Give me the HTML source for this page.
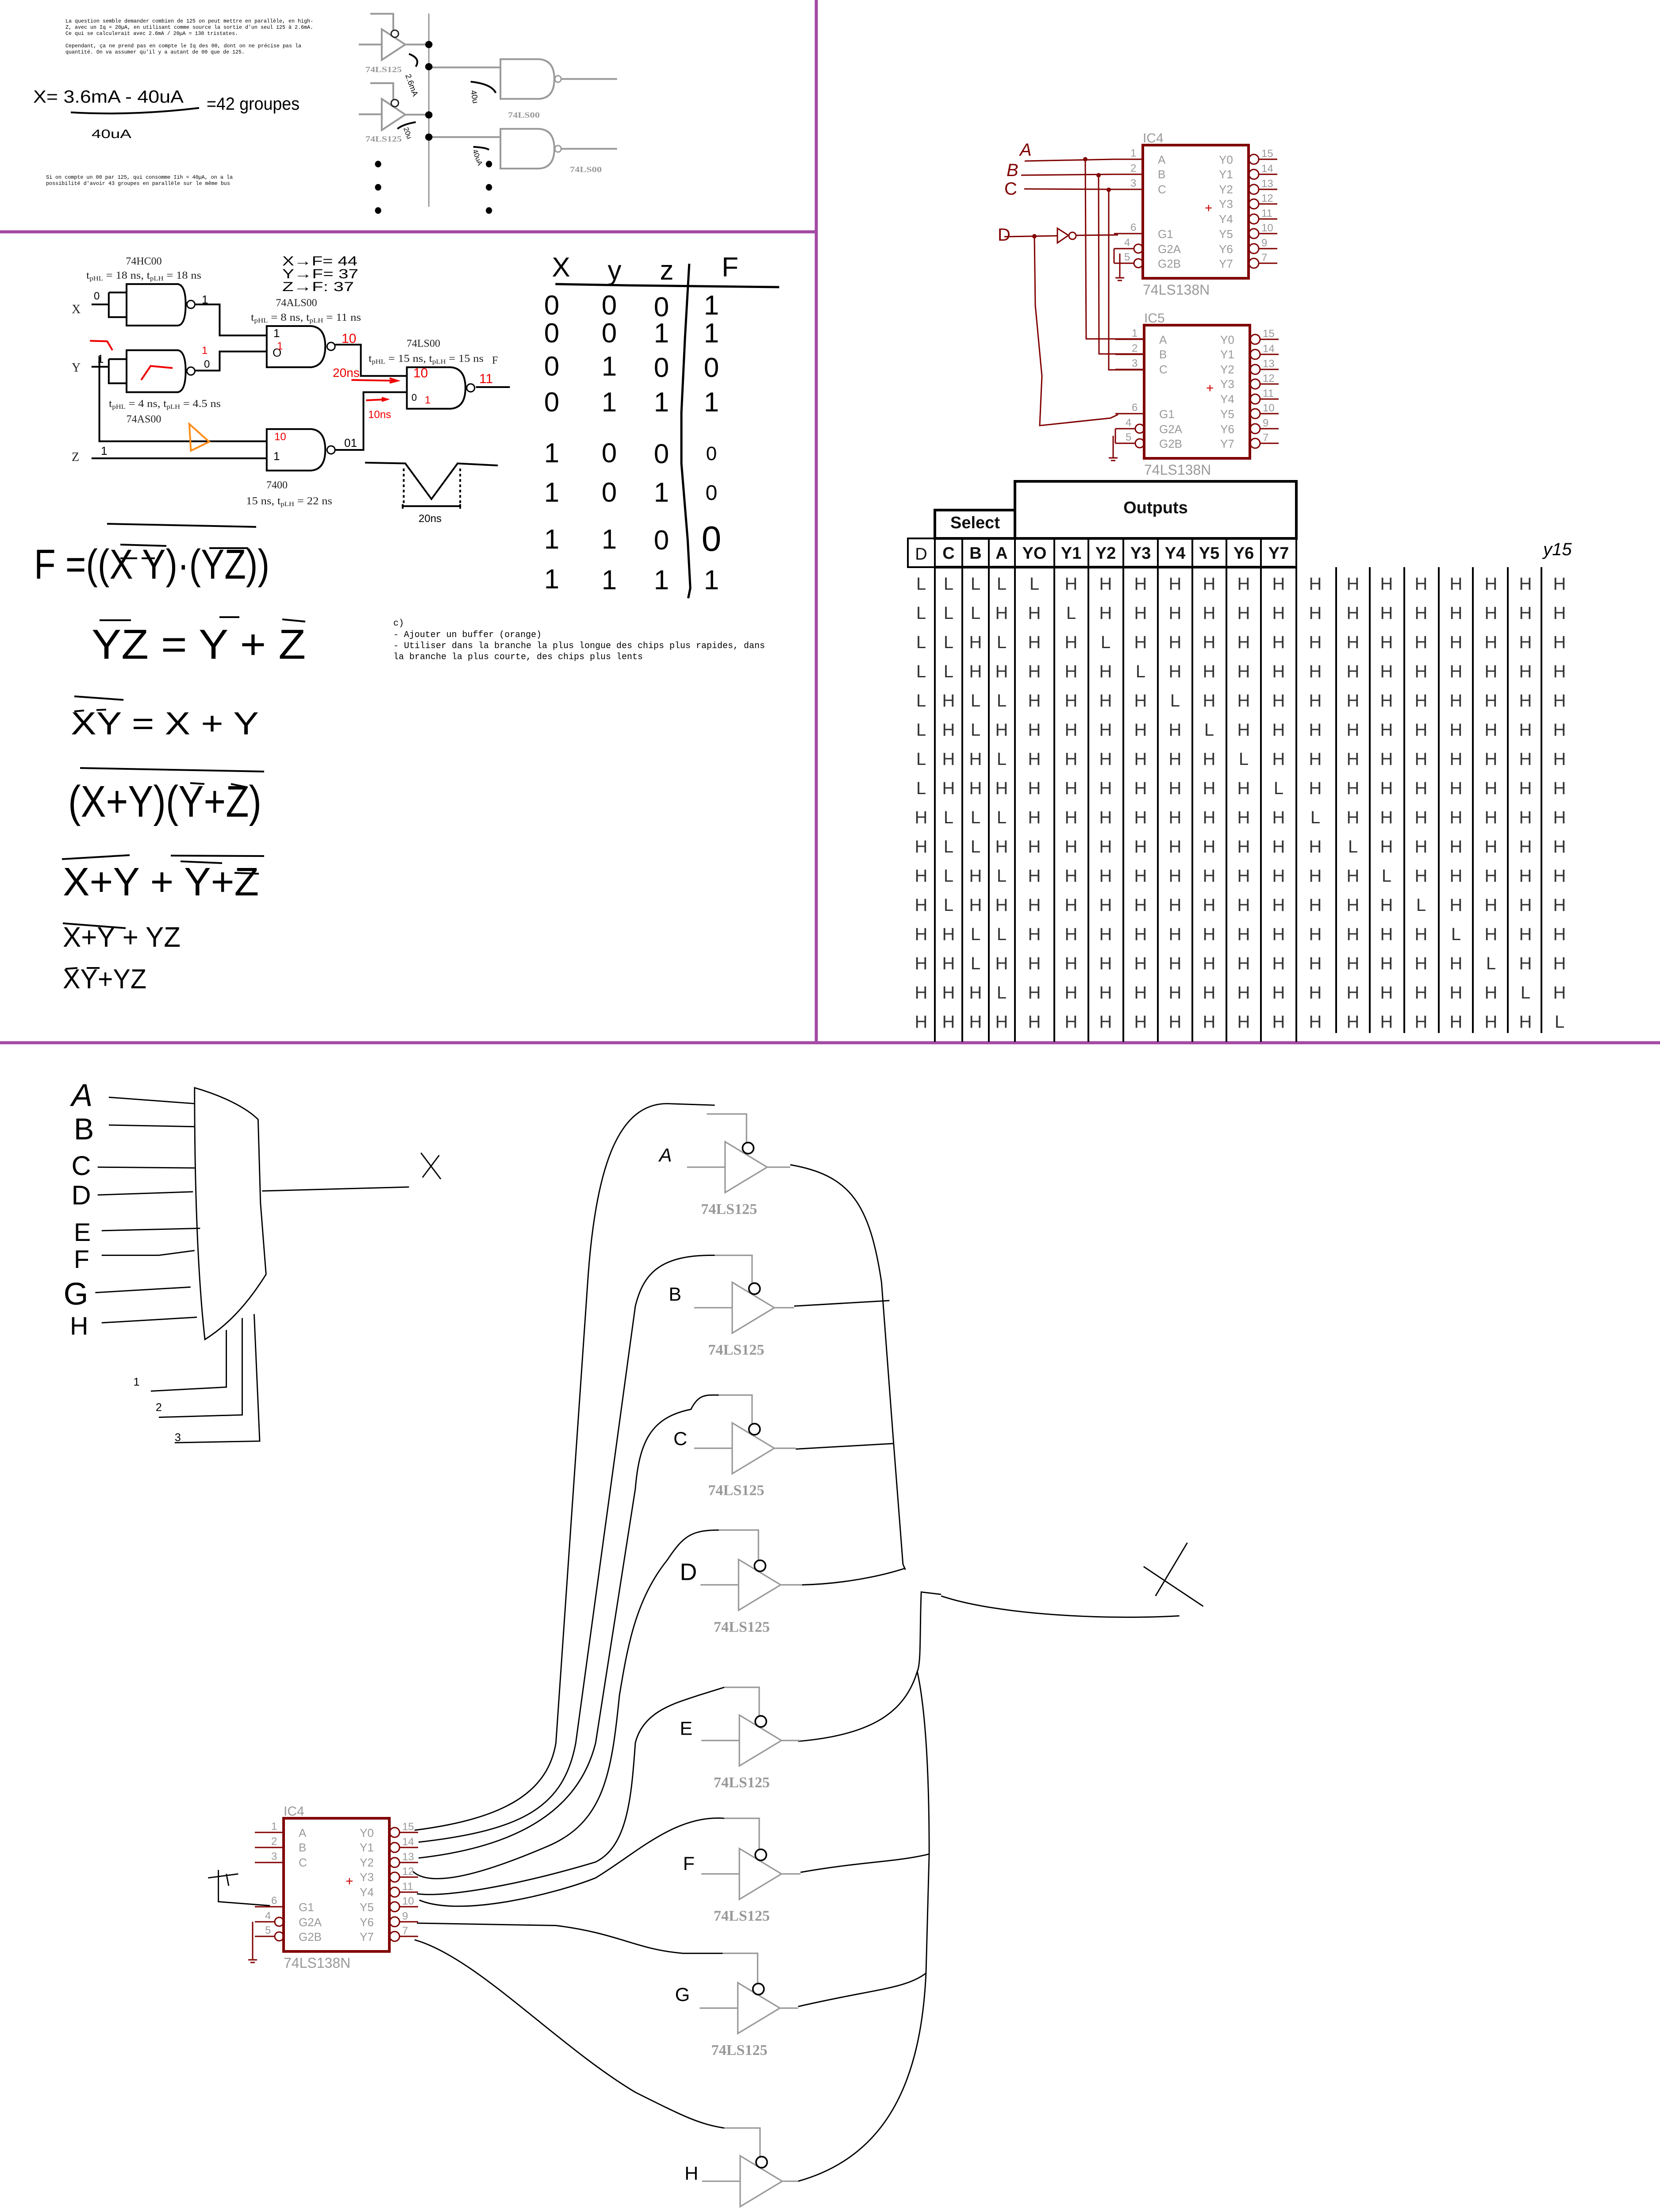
<!DOCTYPE html>
<html><head><meta charset="utf-8"><style>
html,body{margin:0;padding:0;background:#fff;width:3752px;height:5168px;overflow:hidden;}
svg{display:block;}
.g{fill:none;stroke:#999;stroke-width:4;vector-effect:non-scaling-stroke}
.k{fill:none;stroke:#000;stroke-width:4;vector-effect:non-scaling-stroke}
.r{fill:none;stroke:#e00;stroke-width:4;vector-effect:non-scaling-stroke}
.w{fill:none;stroke:#800000;stroke-width:3}
.cb{fill:none;stroke:#800000;stroke-width:6}
.ct{font-family:"Liberation Sans",sans-serif;fill:#999}
.tt{font-family:"Liberation Sans",sans-serif;fill:#333;font-size:40px;text-anchor:middle}
.th{font-family:"Liberation Sans",sans-serif;fill:#111;font-size:38px;font-weight:bold;text-anchor:middle}
.ser{font-family:"Liberation Serif",serif;fill:#222}
.hw{font-family:"Liberation Sans",sans-serif;fill:#000}
.red{font-family:"Liberation Sans",sans-serif;fill:#e00}
.mono{font-family:"Liberation Mono",monospace;fill:#000}
</style></head><body>
<svg xmlns="http://www.w3.org/2000/svg" width="3752" height="5168" viewBox="0 0 3752 5168">
<rect width="3752" height="5168" fill="#fff"/>

<line x1="0" y1="524" x2="1848" y2="524" stroke="#a349a4" stroke-width="7"/>
<line x1="1845" y1="0" x2="1845" y2="2358" stroke="#a349a4" stroke-width="7"/>
<line x1="0" y1="2357" x2="3752" y2="2357" stroke="#a349a4" stroke-width="7"/>

<g font-size="12" class="mono">
<text x="148" y="51" textLength="560" lengthAdjust="spacingAndGlyphs">La question semble demander combien de 125 on peut mettre en parallèle, en high-</text>
<text x="148" y="65" textLength="560" lengthAdjust="spacingAndGlyphs">Z, avec un Iq = 20µA, en utilisant comme source la sortie d'un seul 125 à 2.6mA.</text>
<text x="148" y="79" textLength="390" lengthAdjust="spacingAndGlyphs">Ce qui se calculerait avec 2.6mA / 20µA = 130 tristates.</text>
<text x="148" y="107" textLength="533" lengthAdjust="spacingAndGlyphs">Cependant, ça ne prend pas en compte le Iq des 00, dont on ne précise pas la</text>
<text x="148" y="121" textLength="405" lengthAdjust="spacingAndGlyphs">quantité. On va assumer qu'il y a autant de 00 que de 125.</text>
<text x="104" y="404" textLength="422" lengthAdjust="spacingAndGlyphs">Si on compte un 00 par 125, qui consomme Iih = 40µA, on a la</text>
<text x="104" y="418" textLength="416" lengthAdjust="spacingAndGlyphs">possibilité d'avoir 43 groupes en parallèle sur le même bus</text>
</g>
<text class="hw" x="75" y="232" font-size="40" textLength="340" lengthAdjust="spacingAndGlyphs">X= 3.6mA - 40uA</text>
<path d="M160,254 Q300,262 450,244" class="k" stroke-width="5"/>
<text class="hw" x="467" y="248" font-size="40" textLength="210" lengthAdjust="spacingAndGlyphs">=42 groupes</text>
<text class="hw" x="207" y="312" font-size="28" textLength="90" lengthAdjust="spacingAndGlyphs">40uA</text>

<g transform="translate(0,0) scale(1.182,0.3387)">
 <line x1="820" y1="90" x2="820" y2="1380" class="g" style="stroke-width:3"/>
 <path d="M708,92 L752,92 L752,198" class="g"/>
 <path d="M730,195 L775,297 L730,400 Z" class="g"/>
 <ellipse cx="755" cy="225" rx="7" ry="24" fill="#fff" stroke="#222" stroke-width="3" vector-effect="non-scaling-stroke"/>
 <line x1="686" y1="297" x2="730" y2="297" class="g"/>
 <line x1="775" y1="297" x2="820" y2="297" class="g"/>
 <path d="M708,555 L752,555 L752,662" class="g"/>
 <path d="M730,660 L775,765 L730,868 Z" class="g"/>
 <ellipse cx="755" cy="688" rx="7" ry="24" fill="#fff" stroke="#222" stroke-width="3" vector-effect="non-scaling-stroke"/>
 <line x1="686" y1="763" x2="730" y2="763" class="g"/>
 <line x1="775" y1="765" x2="820" y2="765" class="g"/>
 <line x1="820" y1="450" x2="957" y2="450" class="g"/>
 <path d="M957,395 L1030,395 Q1060,400 1060,527 Q1060,655 1030,660 L957,660 Z" class="g"/>
 <ellipse cx="1067" cy="527" rx="6" ry="22" fill="#fff" stroke="#999" stroke-width="3" vector-effect="non-scaling-stroke"/>
 <line x1="1074" y1="527" x2="1180" y2="527" class="g"/>
 <line x1="820" y1="915" x2="957" y2="915" class="g"/>
 <path d="M957,860 L1030,860 Q1060,865 1060,993 Q1060,1120 1030,1125 L957,1125 Z" class="g"/>
 <ellipse cx="1067" cy="993" rx="6" ry="22" fill="#fff" stroke="#999" stroke-width="3" vector-effect="non-scaling-stroke"/>
 <line x1="1074" y1="993" x2="1180" y2="993" class="g"/>
 <g fill="#000">
  <ellipse cx="820" cy="297" rx="7" ry="24"/><ellipse cx="820" cy="445" rx="7" ry="24"/>
  <ellipse cx="820" cy="767" rx="7" ry="24"/><ellipse cx="820" cy="915" rx="7" ry="24"/>
  <ellipse cx="723" cy="1095" rx="6" ry="22"/><ellipse cx="723" cy="1250" rx="6" ry="22"/><ellipse cx="723" cy="1405" rx="6" ry="22"/>
  <ellipse cx="935" cy="1095" rx="6" ry="22"/><ellipse cx="935" cy="1250" rx="6" ry="22"/><ellipse cx="935" cy="1405" rx="6" ry="22"/>
 </g>
 <path d="M782,360 Q805,390 795,445" class="k"/>
 <path d="M900,545 Q940,560 948,620" class="k"/>
 <path d="M795,815 Q770,830 760,860" class="k"/>
 <path d="M905,980 Q930,985 935,1000" class="k"/>
</g>
<g class="ser" font-weight="bold" fill="#999" font-size="18">
 <text x="826" y="163" textLength="82" lengthAdjust="spacingAndGlyphs" style="fill:#999">74LS125</text>
 <text x="826" y="320" textLength="82" lengthAdjust="spacingAndGlyphs" style="fill:#999">74LS125</text>
 <text x="1148" y="266" textLength="72" lengthAdjust="spacingAndGlyphs" style="fill:#999">74LS00</text>
 <text x="1288" y="389" textLength="72" lengthAdjust="spacingAndGlyphs" style="fill:#999">74LS00</text>
</g>
<text class="hw" x="916" y="170" font-size="18" transform="rotate(70 916 170)">2.6mA</text>
<text class="hw" x="1064" y="205" font-size="18" transform="rotate(80 1064 205)">40u</text>
<text class="hw" x="912" y="290" font-size="16" transform="rotate(70 912 290)">20u</text>
<text class="hw" x="1068" y="340" font-size="16" transform="rotate(70 1068 340)">40uA</text>

<g transform="translate(0,530) scale(1.182,0.575)">
 <path d="M175,275 L208,275 M208,228 L242,228 M208,228 L208,325 L242,325" class="k"/>
 <path d="M242,195 L340,195 Q355,200 355,275 Q355,355 340,358 L242,358 Z" class="k"/>
 <ellipse cx="365" cy="275" rx="7.6" ry="15.6" fill="#fff" stroke="#000" stroke-width="3" vector-effect="non-scaling-stroke"/>
 <path d="M373,275 L420,275 L420,397 L510,397" class="k"/>
 <path d="M175,520 L208,520 M208,490 L242,490 M208,490 L208,585 L242,585" class="k"/>
 <path d="M242,455 L340,455 Q355,460 355,537 Q355,615 340,620 L242,620 Z" class="k"/>
 <ellipse cx="365" cy="537" rx="7.6" ry="15.6" fill="#fff" stroke="#000" stroke-width="3" vector-effect="non-scaling-stroke"/>
 <path d="M373,535 L420,535 L420,460 L510,460" class="k"/>
 <path d="M190,480 L190,813 L510,813" class="k"/>
 <path d="M175,880 L510,880" class="k"/>
 <path d="M510,360 L595,360 Q622,365 622,440 Q622,515 595,522 L510,522 Z" class="k"/>
 <ellipse cx="633" cy="440" rx="7.6" ry="15.6" fill="#fff" stroke="#000" stroke-width="3" vector-effect="non-scaling-stroke"/>
 <path d="M641,433 L690,433 L690,556 L778,556" class="k"/>
 <path d="M778,522 L862,522 Q890,527 890,603 Q890,680 862,685 L778,685 Z" class="k"/>
 <ellipse cx="900" cy="603" rx="7.6" ry="15.6" fill="#fff" stroke="#000" stroke-width="3" vector-effect="non-scaling-stroke"/>
 <path d="M910,600 L975,600" class="k"/>
 <path d="M510,765 L595,765 Q622,770 622,847 Q622,923 595,928 L510,928 Z" class="k"/>
 <ellipse cx="633" cy="847" rx="7.6" ry="15.6" fill="#fff" stroke="#000" stroke-width="3" vector-effect="non-scaling-stroke"/>
 <path d="M641,847 L695,847 L695,620 L778,620" class="k"/>
 <path d="M362,745 L400,815 L365,850 Z" fill="none" stroke="#ff8c1a" stroke-width="4" vector-effect="non-scaling-stroke"/>
 <path d="M172,418 L205,420 L215,455" class="r"/>
 <path d="M270,572 L288,517 L330,525" class="r"/>
 <path d="M672,572 L760,575 M745,565 L760,575 L745,583" class="r"/>
 <path d="M700,652 L740,648 M730,642 L740,648 L730,655" class="r"/>
 <path d="M698,897 L775,900 L825,1040 L875,900 L952,908" class="k"/>
 <path d="M772,920 L772,1060 M880,920 L880,1060" class="k" stroke-dasharray="6,6"/>
 <path d="M770,1060 L770,1078 M770,1068 L880,1068 M880,1060 L880,1078" class="k"/>
 <path d="M1062,195 L1200,200 L1490,207" class="k" style="stroke-width:5"/>
 <path d="M1318,115 L1310,400 L1303,700 L1303,900 L1315,1200 L1320,1390 L1316,1430" class="k" style="stroke-width:5"/>
</g>
<g class="ser" font-size="24">
 <text x="325" y="598" text-anchor="middle">74HC00</text>
 <text x="195" y="630" textLength="260" lengthAdjust="spacingAndGlyphs">t<tspan font-size="15" dy="4">pHL</tspan><tspan dy="-4"> = 18 ns, t</tspan><tspan font-size="15" dy="4">pLH</tspan><tspan dy="-4"> = 18 ns</tspan></text>
 <text x="670" y="692" text-anchor="middle">74ALS00</text>
 <text x="567" y="725" textLength="249" lengthAdjust="spacingAndGlyphs">t<tspan font-size="15" dy="4">pHL</tspan><tspan dy="-4"> = 8 ns, t</tspan><tspan font-size="15" dy="4">pLH</tspan><tspan dy="-4"> = 11 ns</tspan></text>
 <text x="957" y="784" text-anchor="middle">74LS00</text>
 <text x="833" y="818" textLength="260" lengthAdjust="spacingAndGlyphs">t<tspan font-size="15" dy="4">pHL</tspan><tspan dy="-4"> = 15 ns, t</tspan><tspan font-size="15" dy="4">pLH</tspan><tspan dy="-4"> = 15 ns</tspan></text>
 <text x="1112" y="822">F</text>
 <text x="246" y="920" textLength="253" lengthAdjust="spacingAndGlyphs">t<tspan font-size="15" dy="4">pHL</tspan><tspan dy="-4"> = 4 ns, t</tspan><tspan font-size="15" dy="4">pLH</tspan><tspan dy="-4"> = 4.5 ns</tspan></text>
 <text x="325" y="955" text-anchor="middle">74AS00</text>
 <text x="626" y="1104" text-anchor="middle">7400</text>
 <text x="556" y="1140" textLength="195" lengthAdjust="spacingAndGlyphs">15 ns, t<tspan font-size="15" dy="4">pLH</tspan><tspan dy="-4"> = 22 ns</tspan></text>
 <text x="162" y="708" font-size="28">X</text>
 <text x="162" y="840" font-size="28">Y</text>
 <text x="162" y="1042" font-size="28">Z</text>
</g>
<g class="hw" font-size="30">
 <text x="638" y="600" textLength="170" lengthAdjust="spacingAndGlyphs">X→F= 44</text>
 <text x="638" y="629" textLength="172" lengthAdjust="spacingAndGlyphs">Y→F= 37</text>
 <text x="638" y="658" textLength="162" lengthAdjust="spacingAndGlyphs">Z→F: 37</text>
 <text x="212" y="677" font-size="24">0</text>
 <text x="456" y="686" font-size="26">1</text>
 <text x="461" y="831" font-size="24">0</text>
 <text x="220" y="820" font-size="26">1</text>
 <text x="228" y="1028" font-size="26">1</text>
 <text x="618" y="762" font-size="26">1</text>
 <text x="616" y="806" font-size="26">O</text>
 <text x="618" y="1040" font-size="26">1</text>
 <text x="778" y="1010" font-size="26">01</text>
 <text x="930" y="906" font-size="22">0</text>
 <text x="946" y="1180" font-size="24">20ns</text>
</g>
<g class="red" font-size="30">
 <text x="772" y="775">10</text>
 <text x="752" y="852" font-size="28">20ns</text>
 <text x="934" y="853">10</text>
 <text x="1083" y="866">11</text>
 <text x="832" y="945" font-size="24">10ns</text>
 <text x="456" y="800" font-size="24">1</text>
 <text x="626" y="790" font-size="24">1</text>
 <text x="960" y="912" font-size="24">1</text>
 <text x="620" y="995" font-size="24">10</text>
</g>
<g class="hw" font-size="62" text-anchor="middle">
 <text x="1268" y="625">X</text><text x="1389" y="632">y</text><text x="1507" y="632">z</text><text x="1650" y="625">F</text>
 <text x="1247" y="711">0</text><text x="1377" y="711">0</text><text x="1495" y="715">0</text><text x="1608" y="711">1</text>
 <text x="1247" y="774">0</text><text x="1377" y="774">0</text><text x="1495" y="774">1</text><text x="1608" y="774">1</text>
 <text x="1247" y="849">0</text><text x="1377" y="849">1</text><text x="1495" y="852">0</text><text x="1608" y="852">0</text>
 <text x="1247" y="930">0</text><text x="1377" y="930">1</text><text x="1495" y="930">1</text><text x="1608" y="930">1</text>
 <text x="1247" y="1045">1</text><text x="1377" y="1045">0</text><text x="1495" y="1047">0</text><text x="1608" y="1040" font-size="44">0</text>
 <text x="1247" y="1134">1</text><text x="1377" y="1134">0</text><text x="1495" y="1134">1</text><text x="1608" y="1130" font-size="48">0</text>
 <text x="1247" y="1240">1</text><text x="1377" y="1240">1</text><text x="1495" y="1242">0</text><text x="1608" y="1245" font-size="80">0</text>
 <text x="1247" y="1330">1</text><text x="1377" y="1332">1</text><text x="1495" y="1332">1</text><text x="1608" y="1332">1</text>
</g>

<g class="hw">
 <text x="77" y="1308" font-size="95" textLength="532" lengthAdjust="spacingAndGlyphs">F =((X Y)·(YZ))</text>
 <text x="207" y="1489" font-size="95" textLength="484" lengthAdjust="spacingAndGlyphs">YZ  =  Y + Z</text>
 <text x="160" y="1660" font-size="72" textLength="425" lengthAdjust="spacingAndGlyphs">XY   = X + Y</text>
 <text x="154" y="1846" font-size="100" textLength="437" lengthAdjust="spacingAndGlyphs">(X+Y)(Y+Z)</text>
 <text x="142" y="2024" font-size="90" textLength="443" lengthAdjust="spacingAndGlyphs">X+Y  + Y+Z</text>
 <text x="142" y="2140" font-size="64" textLength="266" lengthAdjust="spacingAndGlyphs">X+Y  + YZ</text>
 <text x="142" y="2234" font-size="62" textLength="189" lengthAdjust="spacingAndGlyphs">XY+YZ</text>
</g>
<g stroke="#000" stroke-width="4" fill="none">
 <path d="M242,1184 L579,1191"/><path d="M272,1231 L376,1234"/><path d="M473,1239 L561,1239"/>
 <path d="M272,1262 L310,1262"/><path d="M320,1262 L350,1262"/>
 <path d="M225,1402 L296,1402"/><path d="M496,1395 L541,1395"/><path d="M638,1400 L690,1405"/>
 <path d="M168,1574 L279,1582"/><path d="M168,1608 L190,1606"/><path d="M218,1605 L240,1604"/>
 <path d="M181,1736 L597,1744"/><path d="M430,1770 L462,1772"/><path d="M522,1772 L560,1780"/>
 <path d="M140,1942 L293,1933"/><path d="M386,1934 L597,1935"/><path d="M408,1947 L502,1951"/><path d="M530,1973 L585,1975"/>
 <path d="M142,2087 L284,2098"/>
 <path d="M148,2190 L175,2188"/><path d="M196,2188 L225,2188"/>
</g>
<g class="mono" font-size="20">
 <text x="889" y="1414">c)</text>
 <text x="889" y="1440" textLength="335" lengthAdjust="spacingAndGlyphs">- Ajouter un buffer (orange)</text>
 <text x="889" y="1465" textLength="840" lengthAdjust="spacingAndGlyphs">- Utiliser dans la branche la plus longue des chips plus rapides, dans</text>
 <text x="889" y="1490" textLength="564" lengthAdjust="spacingAndGlyphs">la branche la plus courte, des chips plus lents</text>
</g>

<g>
 <path d="M2316,364 L2518,360 M2308,396 L2518,394 M2315,427 L2518,428" class="w"/>
 <path d="M2453,360 L2455,766 L2586,766 M2483,396 L2484,800 L2586,800 M2506,429 L2506,836 L2586,836" class="w" stroke-width="2"/>
 <circle cx="2453" cy="360" r="5" fill="#800000"/><circle cx="2483" cy="396" r="5" fill="#800000"/><circle cx="2506" cy="429" r="5" fill="#800000"/>
 <path d="M2270,535 L2390,533" class="w"/>
 <path d="M2390,516 L2415,532 L2390,549 Z" class="w"/>
 <circle cx="2424" cy="533" r="8" class="w"/>
 <path d="M2432,532 L2527,531" class="w"/>
 <circle cx="2338" cy="534" r="5" fill="#800000"/>
 <path d="M2338,534 L2340,690 L2355,850 L2350,962 L2510,945 L2527,937" class="w" stroke-width="4"/>
 <g class="red" style="fill:#800000" font-size="40">
  <text x="2305" y="352" font-style="italic">A</text>
  <text x="2275" y="398" font-style="italic">B</text>
  <text x="2270" y="440">C</text>
  <text x="2255" y="544">D</text>
 </g>
</g>

<g transform="translate(2583,328)">
 <text class="ct" x="0" y="-6" font-size="30">IC4</text>
 <rect x="0" y="0" width="239" height="301" class="cb"/>
 <path d="M-65,32 H0 M-65,66 H0 M-65,100 H0 M-65,200 H0 M-65,234 H-20 M-65,267 H-20" class="w"/>
 <circle cx="-10" cy="234" r="10" class="w"/><circle cx="-10" cy="267" r="10" class="w"/>
 <path d="M-65,234 V267 M-52,245 V300 M-62,300 H-42 M-57,306 H-47" class="w"/>
 <g class="ct" font-size="24"><text x="-28" y="26">1</text><text x="-28" y="60">2</text><text x="-28" y="94">3</text><text x="-28" y="194">6</text><text x="-42" y="228">4</text><text x="-42" y="261">5</text></g>
 <g class="ct" font-size="26"><text x="34" y="42">A</text><text x="34" y="75">B</text><text x="34" y="109">C</text><text x="34" y="210">G1</text><text x="34" y="244">G2A</text><text x="34" y="277">G2B</text>
 <text x="172" y="42">Y0</text><text x="172" y="75">Y1</text><text x="172" y="109">Y2</text><text x="172" y="142">Y3</text><text x="172" y="176">Y4</text><text x="172" y="210">Y5</text><text x="172" y="244">Y6</text><text x="172" y="277">Y7</text></g>
 <text x="140" y="152" font-size="30" fill="#c00" font-family="Liberation Sans,sans-serif">+</text>
 <g class="w"><circle cx="251" cy="32" r="11"/><circle cx="251" cy="66" r="11"/><circle cx="251" cy="100" r="11"/><circle cx="251" cy="133" r="11"/><circle cx="251" cy="167" r="11"/><circle cx="251" cy="200" r="11"/><circle cx="251" cy="234" r="11"/><circle cx="251" cy="267" r="11"/>
 <path d="M262,32 H304 M262,66 H304 M262,100 H304 M262,133 H304 M262,167 H304 M262,200 H304 M262,234 H304 M262,267 H304"/></g>
 <g class="ct" font-size="24"><text x="268" y="27">15</text><text x="268" y="61">14</text><text x="268" y="95">13</text><text x="268" y="128">12</text><text x="268" y="162">11</text><text x="268" y="195">10</text><text x="268" y="229">9</text><text x="268" y="262">7</text></g>
 <text class="ct" x="0" y="338" font-size="32">74LS138N</text>
</g>
<g transform="translate(2586,735)">
 <text class="ct" x="0" y="-6" font-size="30">IC5</text>
 <rect x="0" y="0" width="239" height="301" class="cb"/>
 <path d="M-65,32 H0 M-65,66 H0 M-65,100 H0 M-65,200 H0 M-65,234 H-20 M-65,267 H-20" class="w"/>
 <circle cx="-10" cy="234" r="10" class="w"/><circle cx="-10" cy="267" r="10" class="w"/>
 <path d="M-65,234 V267 M-70,250 V300 M-80,300 H-60 M-75,306 H-65" class="w"/>
 <g class="ct" font-size="24"><text x="-28" y="26">1</text><text x="-28" y="60">2</text><text x="-28" y="94">3</text><text x="-28" y="194">6</text><text x="-42" y="228">4</text><text x="-42" y="261">5</text></g>
 <g class="ct" font-size="26"><text x="34" y="42">A</text><text x="34" y="75">B</text><text x="34" y="109">C</text><text x="34" y="210">G1</text><text x="34" y="244">G2A</text><text x="34" y="277">G2B</text>
 <text x="172" y="42">Y0</text><text x="172" y="75">Y1</text><text x="172" y="109">Y2</text><text x="172" y="142">Y3</text><text x="172" y="176">Y4</text><text x="172" y="210">Y5</text><text x="172" y="244">Y6</text><text x="172" y="277">Y7</text></g>
 <text x="140" y="152" font-size="30" fill="#c00" font-family="Liberation Sans,sans-serif">+</text>
 <g class="w"><circle cx="251" cy="32" r="11"/><circle cx="251" cy="66" r="11"/><circle cx="251" cy="100" r="11"/><circle cx="251" cy="133" r="11"/><circle cx="251" cy="167" r="11"/><circle cx="251" cy="200" r="11"/><circle cx="251" cy="234" r="11"/><circle cx="251" cy="267" r="11"/>
 <path d="M262,32 H304 M262,66 H304 M262,100 H304 M262,133 H304 M262,167 H304 M262,200 H304 M262,234 H304 M262,267 H304"/></g>
 <g class="ct" font-size="24"><text x="268" y="27">15</text><text x="268" y="61">14</text><text x="268" y="95">13</text><text x="268" y="128">12</text><text x="268" y="162">11</text><text x="268" y="195">10</text><text x="268" y="229">9</text><text x="268" y="262">7</text></g>
 <text class="ct" x="0" y="338" font-size="32">74LS138N</text>
</g>

<g stroke="#000" fill="none">
 <rect x="2294" y="1088" width="636" height="129" stroke-width="6"/>
 <rect x="2113" y="1153" width="181" height="64" stroke-width="6"/>
 <rect x="2052" y="1217" width="61" height="65" stroke-width="4"/>
 <path d="M2113,1217 H2930 M2113,1282 H2930" stroke-width="6"/>
 <path d="M2113,1217 V2355 M2175,1217 V2355 M2235,1217 V2355 M2294,1217 V2355 M2383,1217 V2355 M2460,1217 V2355 M2539,1217 V2355 M2617,1217 V2355 M2695,1217 V2355 M2772,1217 V2355 M2850,1217 V2355 M2930,1217 V2355" stroke-width="4"/>
 <path d="M3020,1282 V2335 M3096,1282 V2335 M3174,1282 V2335 M3252,1282 V2335 M3329,1282 V2335 M3408,1282 V2335 M3484,1282 V2335" stroke-width="4"/>
</g>
<text class="th" x="2204" y="1194">Select</text>
<text class="th" x="2612" y="1160">Outputs</text>
<g class="th">
 <text x="2082" y="1265" font-weight="normal">D</text>
 <text x="2144" y="1263">C</text><text x="2205" y="1263">B</text><text x="2264" y="1263">A</text>
 <text x="2338" y="1263">YO</text><text x="2421" y="1263">Y1</text><text x="2499" y="1263">Y2</text><text x="2578" y="1263">Y3</text><text x="2656" y="1263">Y4</text><text x="2733" y="1263">Y5</text><text x="2811" y="1263">Y6</text><text x="2890" y="1263">Y7</text>
</g>
<text class="hw" x="3488" y="1255" font-size="40" font-style="italic">y15</text>
<g class="tt">
<text x="2082 2144 2205 2264 2338 2421 2499 2578 2656 2733 2811 2890 2973 3058 3134 3212 3291 3370 3448 3525" y="1333">LLLLLHHHHHHHHHHHHHHH</text>
<text x="2082 2144 2205 2264 2338 2421 2499 2578 2656 2733 2811 2890 2973 3058 3134 3212 3291 3370 3448 3525" y="1399">LLLHHLHHHHHHHHHHHHHH</text>
<text x="2082 2144 2205 2264 2338 2421 2499 2578 2656 2733 2811 2890 2973 3058 3134 3212 3291 3370 3448 3525" y="1465">LLHLHHLHHHHHHHHHHHHH</text>
<text x="2082 2144 2205 2264 2338 2421 2499 2578 2656 2733 2811 2890 2973 3058 3134 3212 3291 3370 3448 3525" y="1531">LLHHHHHLHHHHHHHHHHHH</text>
<text x="2082 2144 2205 2264 2338 2421 2499 2578 2656 2733 2811 2890 2973 3058 3134 3212 3291 3370 3448 3525" y="1597">LHLLHHHHLHHHHHHHHHHH</text>
<text x="2082 2144 2205 2264 2338 2421 2499 2578 2656 2733 2811 2890 2973 3058 3134 3212 3291 3370 3448 3525" y="1663">LHLHHHHHHLHHHHHHHHHH</text>
<text x="2082 2144 2205 2264 2338 2421 2499 2578 2656 2733 2811 2890 2973 3058 3134 3212 3291 3370 3448 3525" y="1729">LHHLHHHHHHLHHHHHHHHH</text>
<text x="2082 2144 2205 2264 2338 2421 2499 2578 2656 2733 2811 2890 2973 3058 3134 3212 3291 3370 3448 3525" y="1795">LHHHHHHHHHHLHHHHHHHH</text>
<text x="2082 2144 2205 2264 2338 2421 2499 2578 2656 2733 2811 2890 2973 3058 3134 3212 3291 3370 3448 3525" y="1861">HLLLHHHHHHHHLHHHHHHH</text>
<text x="2082 2144 2205 2264 2338 2421 2499 2578 2656 2733 2811 2890 2973 3058 3134 3212 3291 3370 3448 3525" y="1927">HLLHHHHHHHHHHLHHHHHH</text>
<text x="2082 2144 2205 2264 2338 2421 2499 2578 2656 2733 2811 2890 2973 3058 3134 3212 3291 3370 3448 3525" y="1993">HLHLHHHHHHHHHHLHHHHH</text>
<text x="2082 2144 2205 2264 2338 2421 2499 2578 2656 2733 2811 2890 2973 3058 3134 3212 3291 3370 3448 3525" y="2059">HLHHHHHHHHHHHHHLHHHH</text>
<text x="2082 2144 2205 2264 2338 2421 2499 2578 2656 2733 2811 2890 2973 3058 3134 3212 3291 3370 3448 3525" y="2125">HHLLHHHHHHHHHHHHLHHH</text>
<text x="2082 2144 2205 2264 2338 2421 2499 2578 2656 2733 2811 2890 2973 3058 3134 3212 3291 3370 3448 3525" y="2191">HHLHHHHHHHHHHHHHHLHH</text>
<text x="2082 2144 2205 2264 2338 2421 2499 2578 2656 2733 2811 2890 2973 3058 3134 3212 3291 3370 3448 3525" y="2257">HHHLHHHHHHHHHHHHHHLH</text>
<text x="2082 2144 2205 2264 2338 2421 2499 2578 2656 2733 2811 2890 2973 3058 3134 3212 3291 3370 3448 3525" y="2323">HHHHHHHHHHHHHHHHHHHL</text>
</g>

<g transform="translate(0,2360) scale(1.795)">
 <g fill="none" stroke="#000" stroke-width="1.6">
  <path d="M245,55 C280,65 310,80 325,95 L328,200 L335,290 C310,330 285,355 258,372 C250,300 245,200 245,55 Z"/>
  <path d="M137,67 L245,75 M137,102 L245,104 M123,155 L245,156 M123,190 L243,186 M128,235 L252,232 M128,266 L200,266 L245,260 M120,313 L240,306 M128,351 L248,344"/>
  <path d="M330,185 L515,180"/>
  <path d="M285,360 L285,432 L190,437 M305,345 L305,467 L200,470 M320,340 L327,500 L220,502"/>
  <path d="M1440,658 L1515,708 M1495,628 L1455,695"/>
  <path d="M530,137 L555,170 M553,140 L532,168"/>
  <path d="M522,990 C640,975 690,940 700,880 L740,300 C750,150 780,75 840,75 L900,77"/>
  <path d="M527,1005 C660,990 710,960 725,880 L800,330 C810,290 830,265 900,266"/>
  <path d="M527,1025 C660,1010 730,960 750,880 L800,560 C805,500 820,470 870,460 C880,440 890,442 905,442"/>
  <path d="M520,1042 C545,1065 620,1040 690,1010 C760,980 770,920 780,820 C790,760 800,700 840,650 C860,620 870,612 905,612"/>
  <path d="M525,1070 C560,1075 650,1060 750,1030 C790,1010 795,950 800,880 C810,840 850,830 880,820 L912,810"/>
  <path d="M528,1078 C580,1100 700,1070 750,1050 C800,1020 850,970 912,975"/>
  <path d="M525,1107 L700,1110 C780,1120 800,1140 860,1145 L910,1145"/>
  <path d="M522,1128 C600,1150 700,1260 800,1320 C860,1350 880,1360 912,1365"/>
  <path d="M995,152 C1070,165 1095,200 1110,300 L1125,500 L1137,655 L1140,662"/>
  <path d="M1000,330 L1120,323"/>
  <path d="M1002,510 L1125,503"/>
  <path d="M1010,681 C1060,680 1110,670 1140,660"/>
  <path d="M1185,693 L1160,690 C1158,740 1160,780 1155,790 C1140,840 1100,870 1005,878"/>
  <path d="M1185,695 C1260,720 1400,725 1485,720"/>
  <path d="M1155,790 C1168,850 1170,950 1170,1020 L1166,1170 C1160,1300 1120,1400 1005,1432"/>
  <path d="M1008,1043 C1080,1030 1130,1030 1170,1020"/>
  <path d="M1005,1212 C1100,1190 1140,1190 1166,1170"/>
  <path d="M262,1050 L300,1045 M275,1040 L275,1080 L340,1085 M285,1045 L288,1060"/>
 </g>
 <g fill="#000" font-family="Liberation Sans,sans-serif">
  <text x="90" y="78" font-size="40" font-style="italic">A</text>
  <text x="93" y="120" font-size="38">B</text>
  <text x="90" y="165" font-size="34">C</text>
  <text x="90" y="202" font-size="34">D</text>
  <text x="93" y="248" font-size="32">E</text>
  <text x="93" y="282" font-size="32">F</text>
  <text x="80" y="328" font-size="40">G</text>
  <text x="88" y="366" font-size="32">H</text>
  <text x="168" y="430" font-size="14">1</text>
  <text x="196" y="462" font-size="14">2</text>
  <text x="220" y="500" font-size="14">3</text>
 </g>
 <g fill="none" stroke="#999" stroke-width="1.8">
  <path d="M913,123 L966,155 L913,187 Z M865,155 L913,155 M966,155 L995,155 M890,88 L940,88 L940,124"/>
  <path d="M922,300 L975,332 L922,364 Z M874,332 L922,332 M975,332 L1000,332 M900,266 L947,266 L947,301"/>
  <path d="M922,477 L975,509 L922,541 Z M874,509 L922,509 M975,509 L1002,509 M905,442 L947,442 L947,478"/>
  <path d="M930,649 L983,681 L930,713 Z M882,681 L930,681 M983,681 L1010,681 M905,612 L955,612 L955,650"/>
  <path d="M931,845 L984,877 L931,909 Z M883,877 L931,877 M984,877 L1008,877 M912,810 L956,810 L956,846"/>
  <path d="M931,1013 L984,1045 L931,1077 Z M883,1045 L931,1045 M984,1045 L1008,1045 M912,975 L956,975 L956,1014"/>
  <path d="M929,1182 L982,1214 L929,1246 Z M881,1214 L929,1214 M982,1214 L1005,1214 M910,1145 L954,1145 L954,1183"/>
  <path d="M932,1400 L985,1432 L932,1464 Z M884,1432 L932,1432 M985,1432 L1005,1432 M912,1365 L957,1365 L957,1401"/>
 </g>
 <g fill="#fff" stroke="#000" stroke-width="2">
  <circle cx="942" cy="131" r="7"/><circle cx="950" cy="308" r="7"/><circle cx="950" cy="485" r="7"/><circle cx="957" cy="657" r="7"/>
  <circle cx="958" cy="853" r="7"/><circle cx="958" cy="1021" r="7"/><circle cx="955" cy="1190" r="7"/><circle cx="959" cy="1408" r="7"/>
 </g>
 <g fill="#999" font-family="Liberation Serif,serif" font-weight="bold" font-size="19" text-anchor="middle">
  <text x="918" y="214">74LS125</text><text x="927" y="391">74LS125</text><text x="927" y="568">74LS125</text><text x="934" y="740">74LS125</text>
  <text x="934" y="936">74LS125</text><text x="934" y="1104">74LS125</text><text x="931" y="1273">74LS125</text><text x="935" y="1491">74LS125</text>
 </g>
 <g fill="#000" font-family="Liberation Sans,sans-serif" font-size="24">
  <text x="830" y="148" font-style="italic">A</text><text x="842" y="323">B</text><text x="848" y="505">C</text><text x="856" y="675" font-size="30">D</text>
  <text x="856" y="870">E</text><text x="860" y="1040">F</text><text x="850" y="1205">G</text><text x="862" y="1430">H</text>
 </g>
</g>

<g transform="translate(641,4110)">
 <text class="ct" x="0" y="-6" font-size="30">IC4</text>
 <rect x="0" y="0" width="239" height="301" class="cb"/>
 <path d="M-65,32 H0 M-65,66 H0 M-65,100 H0 M-65,200 H0 M-65,234 H-20 M-65,267 H-20" class="w"/>
 <circle cx="-10" cy="234" r="10" class="w"/><circle cx="-10" cy="267" r="10" class="w"/>
 <path d="M-40,234 H-65 M-70,234 V320 M-80,320 H-60 M-75,326 H-65" class="w" stroke="#333"/>
 <g class="ct" font-size="24"><text x="-28" y="26">1</text><text x="-28" y="60">2</text><text x="-28" y="94">3</text><text x="-28" y="194">6</text><text x="-42" y="228">4</text><text x="-42" y="261">5</text></g>
 <g class="ct" font-size="26"><text x="34" y="42">A</text><text x="34" y="75">B</text><text x="34" y="109">C</text><text x="34" y="210">G1</text><text x="34" y="244">G2A</text><text x="34" y="277">G2B</text>
 <text x="172" y="42">Y0</text><text x="172" y="75">Y1</text><text x="172" y="109">Y2</text><text x="172" y="142">Y3</text><text x="172" y="176">Y4</text><text x="172" y="210">Y5</text><text x="172" y="244">Y6</text><text x="172" y="277">Y7</text></g>
 <text x="140" y="152" font-size="30" fill="#c00" font-family="Liberation Sans,sans-serif">+</text>
 <g class="w"><circle cx="251" cy="32" r="11"/><circle cx="251" cy="66" r="11"/><circle cx="251" cy="100" r="11"/><circle cx="251" cy="133" r="11"/><circle cx="251" cy="167" r="11"/><circle cx="251" cy="200" r="11"/><circle cx="251" cy="234" r="11"/><circle cx="251" cy="267" r="11"/>
 <path d="M262,32 H304 M262,66 H304 M262,100 H304 M262,133 H304 M262,167 H304 M262,200 H304 M262,234 H304 M262,267 H304"/></g>
 <g class="ct" font-size="24"><text x="268" y="27">15</text><text x="268" y="61">14</text><text x="268" y="95">13</text><text x="268" y="128">12</text><text x="268" y="162">11</text><text x="268" y="195">10</text><text x="268" y="229">9</text><text x="268" y="262">7</text></g>
 <text class="ct" x="0" y="338" font-size="32">74LS138N</text>
</g>
</svg>
</body></html>
